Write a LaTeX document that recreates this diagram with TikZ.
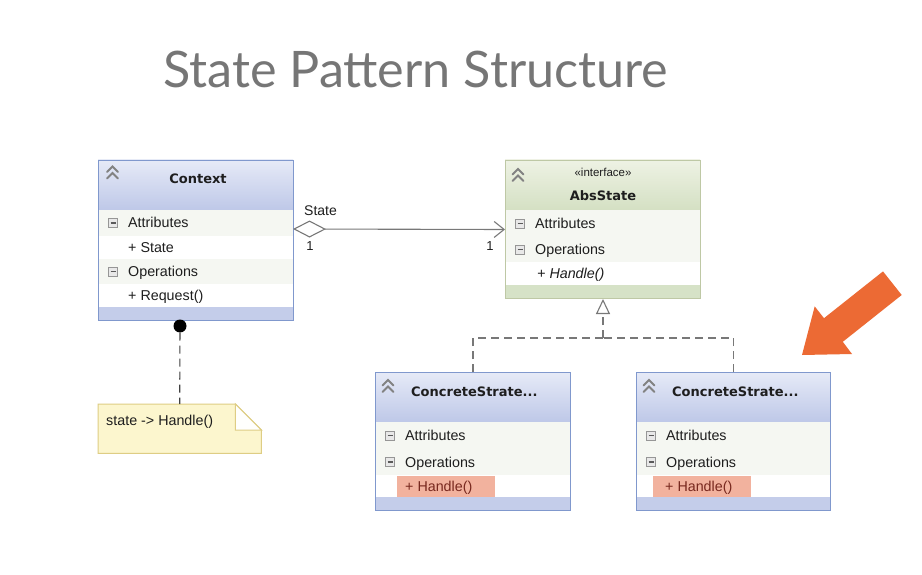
\documentclass[tikz,border=0pt]{standalone}
\usepackage{fontspec}
\setmainfont{Liberation Sans}
\newfontfamily\hdfont{DejaVu Sans}
\newfontfamily\titlefont{Lato}
\usetikzlibrary{arrows.meta}
\definecolor{txt}{RGB}{30,30,30}
\definecolor{titlec}{RGB}{118,118,118}
\definecolor{bluebd}{RGB}{128,152,205}
\definecolor{bluetop}{RGB}{230,234,247}
\definecolor{bluebot}{RGB}{190,200,232}
\definecolor{bluestrip}{RGB}{196,205,234}
\definecolor{greenbd}{RGB}{190,200,165}
\definecolor{greentop}{RGB}{238,242,228}
\definecolor{greenbot}{RGB}{212,224,195}
\definecolor{greenstrip}{RGB}{214,226,199}
\definecolor{secf}{RGB}{245,247,242}
\definecolor{sepc}{RGB}{222,224,222}
\definecolor{minusc}{RGB}{150,150,150}
\definecolor{minusf}{RGB}{232,232,232}
\definecolor{minusd}{RGB}{90,90,90}
\definecolor{chevc}{RGB}{130,130,130}
\definecolor{connc}{RGB}{120,120,120}
\definecolor{hlf}{RGB}{242,178,158}
\definecolor{hltxt}{RGB}{120,40,30}
\definecolor{notef}{RGB}{252,246,206}
\definecolor{notebd}{RGB}{222,205,132}
\definecolor{orangec}{RGB}{236,106,52}
\newcommand\secrow[5]{%
  \fill[secf] (#1,#3) rectangle (#2,#4);
  \draw[sepline] (#1,#4) -- (#2,#4);
  \draw[minusbox] ({#1+10.5},{(#3+#4)/2-4.5}) rectangle ({#1+19.5},{(#3+#4)/2+4.5});
  \draw[minusdash] ({#1+12.5},{(#3+#4)/2}) -- ({#1+17.5},{(#3+#4)/2});
  \node[rowtext] at ({#1+30},{(#3+#4)/2+5}) {#5};
}
\newcommand\itemrow[4]{%
  \fill[white] (#1,#3) rectangle (#2,#4);
  \draw[sepline] (#1,#4) -- (#2,#4);
}
\newcommand\chevicon[2]{%
  \draw[chevron] ({#1-5.5},{#2-0.5}) -- (#1,{#2-6}) -- ({#1+5.5},{#2-0.5});
  \draw[chevron] ({#1-5.5},{#2+6}) -- (#1,{#2+0.5}) -- ({#1+5.5},{#2+6});
}
\begin{document}
\begin{tikzpicture}[x=1pt,y=-1pt,
  rowtext/.style={anchor=base west, inner sep=0, font=\fontsize{14.3}{16}\selectfont, text=txt},
  hdtext/.style={inner sep=0, font=\hdfont\bfseries\fontsize{13}{15}\selectfont, text=txt},
  sepline/.style={draw=sepc, line width=0.8pt},
  minusbox/.style={draw=minusc, fill=minusf, line width=0.7pt},
  minusdash/.style={draw=minusd, line width=1.2pt},
  chevron/.style={draw=chevc, line width=2pt, line cap=round},
  classbox/.style={draw=#1, line width=1pt, inner sep=0, anchor=north west},
  conn/.style={draw=connc, line width=1.1pt},
  dashconn/.style={conn, dash pattern=on 8pt off 5pt},
  lbl/.style={inner sep=0, font=\fontsize{14}{16}\selectfont, text=txt},
]
\useasboundingbox (0,0) rectangle (922,575);
\fill[white] (0,0) rectangle (922,575);

% title
\node[anchor=west, inner sep=0, text=titlec] (title) at (163,69)
  {\resizebox{505pt}{!}{\titlefont\fontsize{44}{50}\selectfont State Pattern Structure}};

% ---------- Context ----------
\shade[top color=bluetop, bottom color=bluebot] (98,160) rectangle (293,210);
\draw[sepline] (98,210) -- (293,210);
\secrow{98}{293}{210}{236}{Attributes}
\itemrow{98}{293}{236}{259}
\node[rowtext] at (128,252.5) {+ State};
\secrow{98}{293}{259}{284}{Operations}
\itemrow{98}{293}{284}{307}
\node[rowtext] at (128,300.5) {+ Request()};
\fill[bluestrip] (98,307) rectangle (293,320);
\chevicon{112.5}{172.5}
\node[hdtext, anchor=base] at (198,184) {Context};
\node[classbox=bluebd, minimum width=195pt, minimum height=160pt] (ctx) at (98,160) {};

% ---------- AbsState ----------
\shade[top color=greentop, bottom color=greenbot] (505,160) rectangle (700,210);
\draw[sepline] (505,210) -- (700,210);
\secrow{505}{700}{210}{237}{Attributes}
\secrow{505}{700}{237}{262}{Operations}
\itemrow{505}{700}{262}{285}
\node[rowtext] at (537,278.5) {\itshape + Handle()};
\fill[greenstrip] (505,285) rectangle (700,298);
\chevicon{518}{175}
\node[inner sep=0, anchor=base, font=\fontsize{11.5}{13}\selectfont, text=txt] at (603,177) {«interface»};
\node[hdtext, anchor=base] at (603,201) {AbsState};
\node[classbox=greenbd, minimum width=195pt, minimum height=138pt] (abs) at (505,160) {};

% ---------- ConcreteState 1 ----------
\shade[top color=bluetop, bottom color=bluebot] (375,372) rectangle (570,422);
\draw[sepline] (375,422) -- (570,422);
\secrow{375}{570}{422}{449}{Attributes}
\secrow{375}{570}{449}{475}{Operations}
\itemrow{375}{570}{475}{497}
\fill[hlf] (397,476) rectangle (495,497);
\node[rowtext, text=hltxt] at (405,491) {+ Handle()};
\fill[bluestrip] (375,497) rectangle (570,510);
\chevicon{388}{386}
\node[hdtext, anchor=base west] at (411,396) {ConcreteStrate...};
\node[classbox=bluebd, minimum width=195pt, minimum height=138pt] (cs1) at (375,372) {};

% ---------- ConcreteState 2 ----------
\shade[top color=bluetop, bottom color=bluebot] (636,372) rectangle (830,422);
\draw[sepline] (636,422) -- (830,422);
\secrow{636}{830}{422}{449}{Attributes}
\secrow{636}{830}{449}{475}{Operations}
\itemrow{636}{830}{475}{497}
\fill[hlf] (653,476) rectangle (751,497);
\node[rowtext, text=hltxt] at (665,491) {+ Handle()};
\fill[bluestrip] (636,497) rectangle (830,510);
\chevicon{649}{386}
\node[hdtext, anchor=base west] at (672,396) {ConcreteStrate...};
\node[classbox=bluebd, minimum width=194pt, minimum height=138pt] (cs2) at (636,372) {};

% ---------- association ----------
\coordinate (ctxR) at (293,229);
\draw[conn, {Diamond[open, length=33pt, width=17pt]}-{Straight Barb[length=10pt, width=16pt]}]
  (ctxR) -- (abs.west);
\node[lbl, anchor=base west] (lstate) at (304,216) {State};
\node[lbl, font=\fontsize{13}{15}\selectfont] (lone1) at (310,246) {1};
\node[lbl, font=\fontsize{13}{15}\selectfont] (lone2) at (490,246) {1};

% ---------- generalization ----------
\coordinate (gen) at (603,338);
\draw[dashconn] (cs1.north) |- (gen);
\draw[dashconn] (cs2.north) |- (gen);
\draw[dashconn, -{Triangle[open, length=15pt, width=14pt, line width=1.1pt]}] (gen) -- (abs.south);

% ---------- note ----------
\node[anchor=north west, minimum width=163pt, minimum height=49pt, inner sep=0] (note) at (98,404) {};
\draw[fill=notef, draw=notebd, line width=1pt]
  (note.north west) -- ([xshift=-26pt]note.north east) -- ([yshift=-26pt]note.north east)
  -- (note.south east) -- (note.south west) -- cycle;
\draw[fill=white!96!notef, draw=notebd, line width=1pt]
  ([xshift=-26pt]note.north east) -- ([xshift=-26pt,yshift=-26pt]note.north east)
  -- ([yshift=-26pt]note.north east) -- cycle;
\node[rowtext] (notetext) at (106,425) {state -> Handle()};
\node[circle, fill=black, minimum size=13pt, inner sep=0] (dot) at (180,326) {};
\draw[dashconn, draw=black!75] (dot) -- (note.north);

% ---------- orange arrow ----------
\fill[orangec] (802,355) -- (852,354) -- (842.8,341.8) -- (901.7,295) -- (883,271.4)
  -- (824,318.2) -- (814.7,306.4) -- cycle;
\end{tikzpicture}
\end{document}
